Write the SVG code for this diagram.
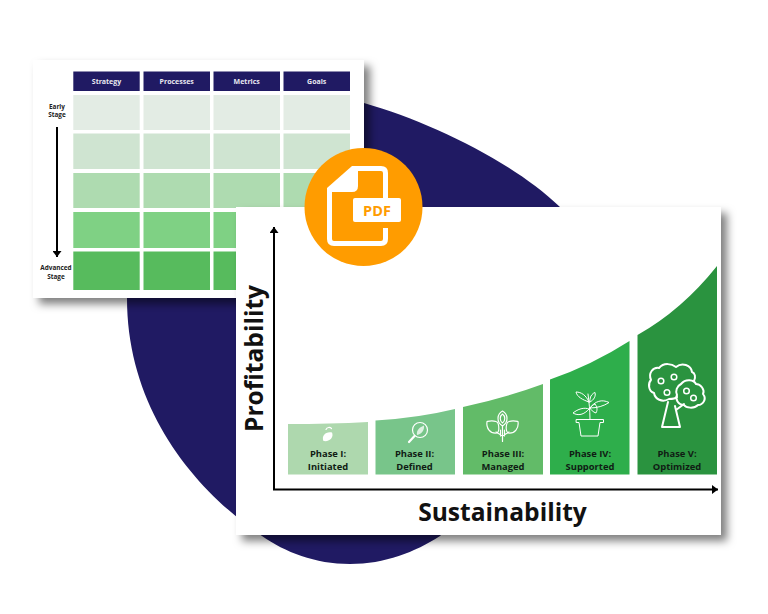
<svg xmlns="http://www.w3.org/2000/svg" width="768" height="614" viewBox="0 0 768 614">
<style>
text{font-family:"Open Sans","Noto Sans",sans-serif;font-weight:700;text-anchor:middle}
.hd{fill:#201a63}
.th{fill:#e8e8f0;font-size:7px}
.sl{fill:#222;font-size:6.4px}
.pl{fill:#101c14;font-size:9.4px}
.ax{font-size:24.6px;fill:#111}
.ic{fill:none;stroke:#fff;stroke-linejoin:round;stroke-linecap:round}
.r1{fill:#e3ece4}.r2{fill:#cfe4d1}.r3{fill:#aedbb0}.r4{fill:#7fd184}.r5{fill:#57bb5d}
</style>
<defs>
<filter id="sh" x="-10%" y="-10%" width="125%" height="125%"><feDropShadow dx="6" dy="6" stdDeviation="4" flood-color="#000" flood-opacity=".5"/></filter>
<marker id="ah" viewBox="0 0 6 9" refX="6" refY="4.500" markerWidth="3" markerHeight="4.500" orient="auto"><path d="M0 0L6 4.500L0 9Z" fill="#000"/></marker>
</defs>
<rect width="768" height="614" fill="#fff"/>
<g id="backdrop"><path d="M364 103C430 122 510 160 560 207L600 300L560 420L440 536C415 552 385 564 350 564C315 564 285 552 262 536C195 490 127 410 127 298C127 250 130 200 150 150Z" fill="#201a63"/></g>
<g id="table-card">
<rect x="33" y="60" width="331" height="238" fill="#fff" filter="url(#sh)"/>
<g id="headers">
<rect class="hd" x="73.300" y="71.500" width="66.400" height="19.500"/><rect class="hd" x="143.500" y="71.500" width="66.500" height="19.500"/><rect class="hd" x="213.500" y="71.500" width="66.500" height="19.500"/><rect class="hd" x="283.500" y="71.500" width="66.500" height="19.500"/>
<text class="th" x="106.500" y="84">Strategy</text><text class="th" x="176.700" y="84">Processes</text><text class="th" x="246.700" y="84">Metrics</text><text class="th" x="316.700" y="84">Goals</text>
</g>
<g id="rows">
<rect class="r1" x="73.300" y="95" width="66.400" height="35"/><rect class="r1" x="143.500" y="95" width="66.500" height="35"/><rect class="r1" x="213.500" y="95" width="66.500" height="35"/><rect class="r1" x="283.500" y="95" width="66.500" height="35"/>
<rect class="r2" x="73.300" y="133.500" width="66.400" height="35.500"/><rect class="r2" x="143.500" y="133.500" width="66.500" height="35.500"/><rect class="r2" x="213.500" y="133.500" width="66.500" height="35.500"/><rect class="r2" x="283.500" y="133.500" width="66.500" height="35.500"/>
<rect class="r3" x="73.300" y="173" width="66.400" height="35"/><rect class="r3" x="143.500" y="173" width="66.500" height="35"/><rect class="r3" x="213.500" y="173" width="66.500" height="35"/><rect class="r3" x="283.500" y="173" width="66.500" height="35"/>
<rect class="r4" x="73.300" y="212" width="66.400" height="36"/><rect class="r4" x="143.500" y="212" width="66.500" height="36"/><rect class="r4" x="213.500" y="212" width="66.500" height="36"/>
<rect class="r5" x="73.300" y="251.500" width="66.400" height="38.500"/><rect class="r5" x="143.500" y="251.500" width="66.500" height="38.500"/><rect class="r5" x="213.500" y="251.500" width="66.500" height="38.500"/>
</g>
<text class="sl" x="57" y="108.500">Early</text><text class="sl" x="57" y="117">Stage</text>
<text class="sl" x="56" y="270">Advanced</text><text class="sl" x="56" y="278.700">Stage</text>
</g>
<g id="chart-card"><rect x="236" y="207" width="485" height="328" fill="#fff" filter="url(#sh)"/></g>
<g id="connectors" fill="none" stroke="#000" stroke-width="2">
<line x1="57" y1="127" x2="57" y2="257" marker-end="url(#ah)"/>
<line x1="274" y1="490" x2="274" y2="227" marker-end="url(#ah)"/>
<line x1="273" y1="489.500" x2="718" y2="489.500" marker-end="url(#ah)"/>
</g>
<g id="phase-1">
<path d="M288 424Q330 424 368 422V474.500H288Z" fill="#aed8ae"/>
<path d="M323.500 441C321 436 326 431 332 432.500C334 437 330 442 323.500 441Z" fill="#fff"/>
<path class="ic" d="M326 429.500C327 427 330 427 331.500 428.500" stroke-width="1.200"/>
<text class="pl" x="328" y="456.500">Phase I:</text><text class="pl" x="328" y="469.500">Initiated</text>
</g>
<g id="phase-2">
<path d="M375.500 420.500Q418 418 455 409V474.500H375.500Z" fill="#78c58a"/>
<circle class="ic" cx="420" cy="430" r="7.500" stroke-width="1.200"/>
<path class="ic" d="M414.500 436L409 442" stroke-width="2.200"/>
<path d="M417 435C416 430 420 427 424 425.500C424.500 430 422 434 417 435Z" fill="#fff" opacity=".75"/>
<text class="pl" x="414.500" y="456.500">Phase II:</text><text class="pl" x="414.500" y="469.500">Defined</text>
</g>
<g id="phase-3">
<path d="M463 407Q505 398 543 384V474.500H463Z" fill="#62bb68"/>
<g class="ic" stroke-width="1.200">
<path d="M502.500 441.500V426M502.500 436L496 432M502.500 436L509 432M500.500 436V430M504.500 436V430"/>
<path d="M502.500 411C497 414 496 422 502.500 426C509 422 508 414 502.500 411Z"/>
<path d="M502.500 414C499.500 416 499.500 421 502.500 423C505.500 421 505.500 416 502.500 414Z"/>
<path d="M487 421.500C486 428 490 434 497 433C500 431 499 422 496 421.500C492 420 489 421 487 421.500Z"/>
<path d="M518 421.500C519 428 515 434 508 433C505 431 506 422 509 421.500C513 420 516 421 518 421.500Z"/>
</g>
<text class="pl" x="503" y="456.500">Phase III:</text><text class="pl" x="503" y="469.500">Managed</text>
</g>
<g id="phase-4">
<path d="M550 379.500Q592 365 629.500 341V474.500H550Z" fill="#2eae4b"/>
<g class="ic" stroke-width="1">
<path d="M576.500 419.500H603.500V422.500H600L598 436H581L579 422.500H576.500Z"/>
<path d="M590 419.500C590 410 589 402 588 394"/>
<path d="M589 402C586 395 581 392 576 392C577 397 583 400 589 402Z"/>
<path d="M590 399C590 396 593 393 595 392.500C596 396 594 400 590 402Z"/>
<path d="M590 408C595 401 602 399 609 402.500C604 406 597 408 590 408Z"/>
<path d="M590 408C591 406 593 405 595 404C598 408 597 411 596 413C593 412 591 410 590 408Z"/>
<path d="M589 409C584 407 578 409 573 413C578 416 584 415 589 409Z"/>
</g>
<text class="pl" x="590" y="456.500">Phase IV:</text><text class="pl" x="590" y="469.500">Supported</text>
</g>
<g id="phase-5">
<path d="M637.500 335Q682 310 717 266V474.500H637.500Z" fill="#2a933f"/>
<g class="ic" stroke-width="2">
<path d="M668 402L662 427H680L675 406M676 410L684 404"/>
<path d="M677 397C675 399 672 399 669 399C662 403 655 399 654 393C648 391 648 383 651 380C648 373 653 367 659 368C664 362 672 364 676 367C682 362 691 365 692 372C695 373 696 377 694 381"/>
<path d="M681 384C686 378 694 380 696 384C701 384 705 390 703 394C707 399 703 405 698 405C694 409 686 408 684 405C678 405 675 399 677 395C675 391 677 386 681 384Z"/>
</g>
<g class="ic" stroke-width="1.500"><circle cx="661" cy="381" r="2.800"/><circle cx="674" cy="377" r="2.800"/><circle cx="667" cy="392.500" r="2.800"/><circle cx="686.500" cy="391" r="2.800"/><circle cx="693.500" cy="398" r="2.800"/></g>
<text class="pl" x="677" y="456.500">Phase V:</text><text class="pl" x="677" y="469.500">Optimized</text>
</g>
<text class="ax" transform="translate(263 358.500) rotate(-90)">Profitability</text>
<text class="ax" x="502.500" y="521">Sustainability</text>
<g id="pdf-badge">
<circle cx="363.500" cy="207" r="59" fill="#ff9c00"/>
<path d="M353 168.500H381Q385.500 168.500 385.500 173V198M385.500 228V239Q385.500 243.500 381 243.500H334Q329.500 243.500 329.500 239V189" fill="none" stroke="#fff" stroke-width="5"/>
<path d="M352 166H358V186Q358 192 352 192H327V188Z" fill="#fff"/>
<rect x="353" y="198" width="48" height="24" rx="2" fill="#fff"/>
<text x="377" y="215.500" font-size="14.500" fill="#ff9c00">PDF</text>
</g>
</svg>
